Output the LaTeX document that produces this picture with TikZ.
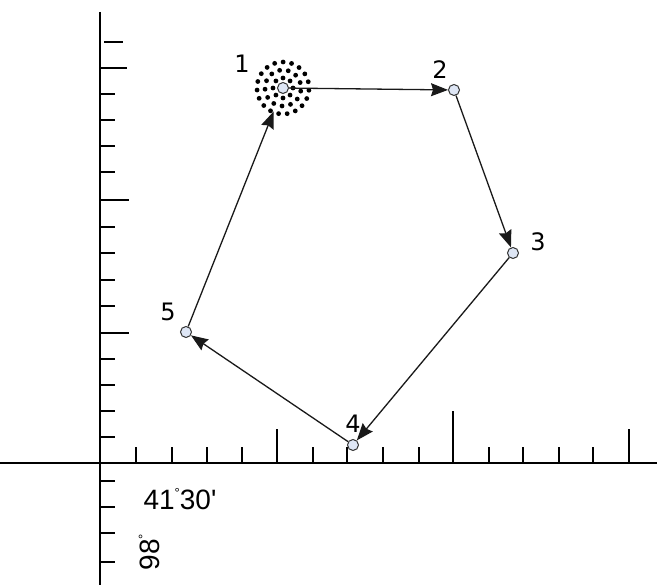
\documentclass[tikz,border=0pt]{standalone}
\usepackage{fontspec}
\setmainfont{DejaVu Sans}
\newfontfamily\arialf{Liberation Sans}
\usetikzlibrary{arrows.meta,calc}
\begin{document}
\begin{tikzpicture}[x=1pt,y=-1pt,
  axisline/.style={line width=1.9pt,black},
  tickmark/.style={line width=1.7pt,black},
  pt/.style={circle,draw=black!80,fill={rgb,255:red,222;green,230;blue,245},line width=1pt,minimum size=11pt,inner sep=0pt},
  ptlabel/.style={font=\fontsize{24}{24}\selectfont,inner sep=0pt},
  conn/.style={line width=1.3pt,black!90,-{Stealth[length=17pt,width=13pt,inset=2pt]}},
  dotm/.style={circle,fill=black,minimum size=4.8pt,inner sep=0pt}
]
\useasboundingbox (0,0) rectangle (657,585);
% axes
\draw[axisline] (100,12) -- (100,585);
\draw[axisline] (0,463) -- (657,463);
% vertical ticks
\draw[tickmark] (104,42) -- (123,42);
\draw[tickmark] (100,68) -- (127,68);
\foreach \y in {94,120,146,172,227,253,280,306,359,385,411,437,481,507,533,562}
  \draw[tickmark] (100,\y) -- (115,\y);
\draw[tickmark] (100,200) -- (129,200);
\draw[tickmark] (100,333) -- (129,333);
% horizontal ticks
\foreach \x in {136,172,207,242,313,347,383,419,489,523,559,593}
  \draw[tickmark] (\x,463) -- (\x,447);
\draw[tickmark] (277,463) -- (277,429);
\draw[tickmark] (453,463) -- (453,411);
\draw[tickmark] (629,463) -- (629,429);
% dot cluster around point 1
\foreach \r/\n/\o in {10/8/0,18/13/10,26/19/5}{
  \foreach \i in {1,...,\n}
    \node[dotm] at ($(283,88)+({\o+360*\i/\n}:\r)$) {};
}
\node[circle,minimum size=50pt,inner sep=0pt] (c1) at (283,88) {};
% points
\node[pt] (p1) at (283,88) {};
\node[pt] (p2) at (454,90) {};
\node[pt] (p3) at (513,253) {};
\node[pt] (p4) at (353,445) {};
\node[pt] (p5) at (186,332) {};
% labels
\node[ptlabel] (l1) at (242,64) {1};
\node[ptlabel] (l2) at (440,70) {2};
\node[ptlabel] (l3) at (538,242) {3};
\node[ptlabel] (l4) at (353,424) {4};
\node[ptlabel] (l5) at (168,312) {5};
% connectors
\draw[conn] (p1) -- (p2);
\draw[conn] (p2) -- (p3);
\draw[conn] (p3) -- (p4);
\draw[conn] (p4) -- (p5);
\draw[conn] (p5) -- (c1);
% coordinate texts
\node[font=\arialf\fontsize{28}{28}\selectfont,inner sep=0pt] (t1) at (180,499) {41\raisebox{0.4em}{\fontsize{13}{13}\selectfont°}30'};
\node[font=\arialf\fontsize{28}{28}\selectfont,inner sep=0pt,rotate=90] (t2) at (149,552) {98\raisebox{0.4em}{\fontsize{13}{13}\selectfont°}};
\end{tikzpicture}
\end{document}
